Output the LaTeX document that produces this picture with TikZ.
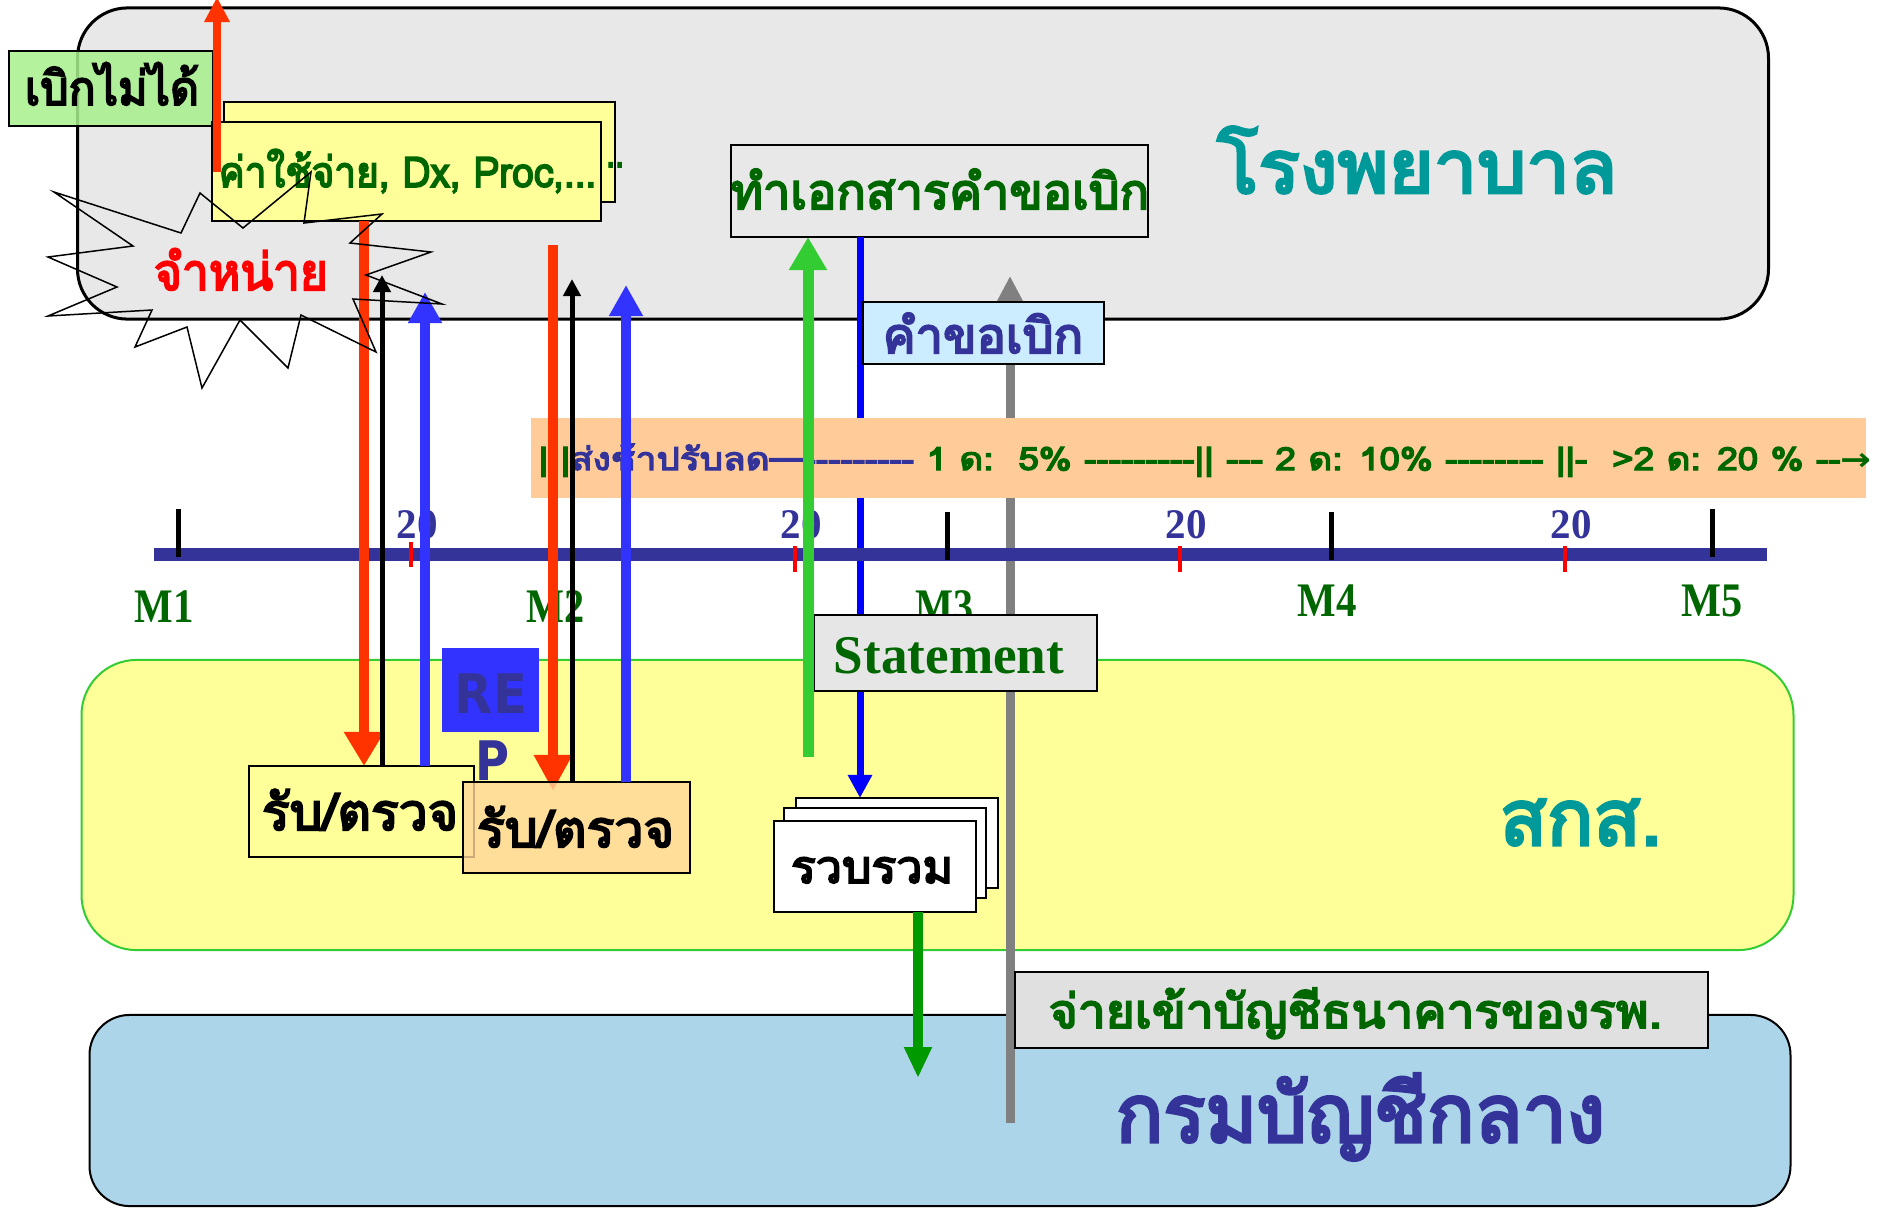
\documentclass[tikz,border=0pt]{standalone}
\usepackage{fontspec}
\usepackage{graphicx}
\usetikzlibrary{arrows.meta,calc}
\newfontfamily\thai[Script=Thai,Ligatures=TeXOff,FakeBold=4]{Loma}
\newfontfamily\tms[Ligatures=TeXOff]{Liberation Serif}
\newfontfamily\djv[Ligatures=TeXOff]{DejaVu Sans}
\definecolor{hgray}{HTML}{E8E8E8}
\definecolor{teal9}{HTML}{009999}
\definecolor{dgreen}{HTML}{006600}
\definecolor{navy3}{HTML}{333399}
\definecolor{yel}{HTML}{FFFF99}
\definecolor{lgreen}{HTML}{33CC33}
\definecolor{skyb}{HTML}{ACD5E9}
\definecolor{peach}{HTML}{FFCC99}
\definecolor{repblue}{HTML}{3333FF}
\definecolor{pureblue}{HTML}{0000FF}
\definecolor{redo}{HTML}{FF3300}
\definecolor{arrgreen}{HTML}{009900}
\definecolor{boxgreen}{HTML}{A8F08C}
\definecolor{reqblue}{HTML}{CCECFF}
\definecolor{stmgray}{HTML}{E6E6E6}
\definecolor{paygray}{HTML}{E0E0E0}
\definecolor{orng}{HTML}{FFD699}
\definecolor{arrgray}{HTML}{808080}
\newcommand{\fitw}[3]{{\fontsize{#2}{#2}\selectfont\resizebox{#1}{\height}{#3}}}
\tikzset{
  box/.style={draw=black, line width=0.02cm, inner sep=0pt, outer sep=0pt},
  lbl/.style={inner sep=0pt, outer sep=0pt, anchor=base},
  redarr/.style={draw=redo, line width=0.10cm, -{Triangle[length=0.34cm,width=0.38cm]}},
  blkarr/.style={draw=black, line width=0.05cm, -{Triangle[length=0.17cm,width=0.17cm]}},
  bluarr/.style={draw=repblue, line width=0.10cm, -{Triangle[length=0.31cm,width=0.32cm]}},
  tickblk/.style={draw=black, line width=0.05cm},
  tickred/.style={draw=red, line width=0.04cm},
}
\begin{document}
\begin{tikzpicture}[x=0.01cm,y=-0.01cm]
\useasboundingbox (0,0) rectangle (1881,1208);
% --- swimlanes
\node[box, line width=0.03cm, fill=hgray, rounded corners=0.5cm, minimum width=16.9cm, minimum height=3.11cm] (hosp) at (923,163.5) {};
\node[box, draw=lgreen, fill=yel, rounded corners=0.55cm, minimum width=17.11cm, minimum height=2.9cm] (sks) at (937.5,805) {};
\node[box, fill=skyb, rounded corners=0.4cm, minimum width=17.0cm, minimum height=1.91cm] (krom) at (940,1110.5) {};
\node[lbl] (hosptxt) at (1417,193) {\fitw{4cm}{21pt}{\color{teal9}\thai โรงพยาบาล}};
\node[lbl] (skstxt) at (1581,845) {\fitw{1.62cm}{22pt}{\color{teal9}\thai สกส.}};
\node[lbl] (kromtxt) at (1360.5,1142) {\fitw{4.89cm}{23pt}{\color{navy3}\thai กรมบัญชีกลาง}};
% --- document box
\node[box, minimum width=4.17cm, minimum height=0.92cm] (docbox) at (939.5,191) {};
\node[lbl] (doctxt) at (940,209) {\fitw{4.18cm}{14pt}{\color{dgreen}\thai ทำเอกสารคำขอเบิก}};
% --- stacked collect boxes
\node[box, fill=white, minimum width=2.02cm, minimum height=0.90cm] (stk3) at (897,843) {};
\node[box, fill=white, minimum width=2.02cm, minimum height=0.90cm] (stk2) at (885,853) {};
\node[box, fill=white, minimum width=2.02cm, minimum height=0.91cm] (stk1) at (875,866.5) {};
\node[lbl] (stktxt) at (872,883) {\fitw{1.62cm}{13pt}{\color{black}\thai รวบรวม}};
% --- gray and blue lines (under band)
\coordinate (gbot) at (1010,1123);
\coordinate (gtop) at (1010,276);
\draw[draw=arrgray, line width=0.09cm, -{Triangle[length=0.26cm,width=0.25cm]}] (gbot) -- (gtop);
\coordinate (xpb) at (860,0);
\draw[draw=pureblue, line width=0.07cm, -{Triangle[length=0.23cm,width=0.23cm]}] (docbox.south -| xpb) -- (stk3.north -| xpb);
% --- penalty band
\node[inner sep=0pt, fill=peach, minimum width=13.35cm, minimum height=0.80cm] (band) at (1198.5,458) {};
\node[inner sep=0pt, anchor=base west] (bandtxt) at (538,470) {\fitw{13.32cm}{9pt}{\thai\textcolor{dgreen}{| |}\textcolor{navy3}{ส่งช้าปรับลด—---------}\textcolor{dgreen}{~1 ด:~~5\% ---------|| --- 2 ด: 10\% -------- ||-~~>2 ด: 20 \% --{\djv\bfseries →}}}};
% --- timeline
\coordinate (tl0) at (154,554);
\coordinate (tl1) at (1767,554);
\draw[draw=navy3, line width=0.13cm] (tl0) -- (tl1);
\draw[tickblk] (178,509) -- (178,557);
\draw[tickblk] (947,512) -- (947,560);
\draw[tickblk] (1331,512) -- (1331,560);
\draw[tickblk] (1712,509) -- (1712,557);
\draw[tickred] (411,542) -- (411,567);
\draw[tickred] (795,546) -- (795,572);
\draw[tickred] (1180,546) -- (1180,572);
\draw[tickred] (1565,546) -- (1565,572);
\foreach \i/\xx in {a/417,b/801,c/1186,d/1571}{
  \node[lbl] (d20\i) at (\xx,538) {\fitw{0.41cm}{12pt}{\color{navy3}\tms\bfseries 20}};
}
\node[lbl] (m1) at (164,622) {\fitw{0.59cm}{13.7pt}{\color{dgreen}\tms\bfseries M1}};
\node[lbl] (m2) at (556,622) {\fitw{0.58cm}{13.7pt}{\color{dgreen}\tms\bfseries M2}};
\node[lbl] (m3) at (945,622) {\fitw{0.58cm}{13.7pt}{\color{dgreen}\tms\bfseries M3}};
\node[lbl] (m4) at (1327.5,616) {\fitw{0.59cm}{13.7pt}{\color{dgreen}\tms\bfseries M4}};
\node[lbl] (m5) at (1712.5,616) {\fitw{0.61cm}{13.7pt}{\color{dgreen}\tms\bfseries M5}};
% --- statement, request, payment boxes
\node[box, fill=stmgray, minimum width=2.83cm, minimum height=0.76cm] (stm) at (955.5,653) {};
\node[lbl] (stmtxt) at (949,673) {\fitw{2.30cm}{15.5pt}{\color{dgreen}\tms\bfseries Statement}};
\node[box, fill=reqblue, minimum width=2.41cm, minimum height=0.62cm] (req) at (983.5,333) {};
\node[lbl] (reqtxt) at (983,353) {\fitw{2.0cm}{14pt}{\color{navy3}\thai คำขอเบิก}};
\node[box, fill=paygray, minimum width=6.93cm, minimum height=0.76cm] (pay) at (1361.5,1010) {};
\node[lbl] (paytxt) at (1355.5,1028) {\fitw{6.13cm}{13.5pt}{\color{dgreen}\thai จ่ายเข้าบัญชีธนาคารของรพ.}};
% --- cannot claim box
\node[box, fill=boxgreen, fill opacity=0.85, minimum width=2.04cm, minimum height=0.75cm] (nogo) at (111,88.5) {};
\node[lbl] (nogotxt) at (112,105) {\fitw{1.74cm}{13.5pt}{\color{black}\thai เบิกไม่ได้}};
% --- expenses stacked boxes
\node[box, fill=yel, minimum width=3.91cm, minimum height=1.00cm] (yback) at (419.5,152) {};
\node[lbl] (ybacktxt) at (615,167) {\fitw{0.18cm}{12pt}{\color{dgreen}\thai ..}};
\node[box, fill=yel, minimum width=3.89cm, minimum height=0.99cm] (yfront) at (406.5,171.5) {};
\node[lbl] (yfronttxt) at (407.5,187) {\fitw{3.77cm}{12pt}{\color{dgreen}\thai ค่าใช้จ่าย, Dx, Proc,...}};
\coordinate (rtop) at (217,-3);
\draw[draw=redo, line width=0.08cm, -{Triangle[length=0.25cm,width=0.24cm]}] (217,172) -- (rtop);
% --- REP
\node[box, draw=none, fill=repblue, minimum width=0.97cm, minimum height=0.84cm] (rep) at (490.5,690) {};
\node[lbl] (reptxt) at (491,713) {\fitw{0.72cm}{15.5pt}{\color{navy3}\djv\bfseries RE}};
\node[lbl] (reptxtp) at (493,780) {\fitw{0.34cm}{15.5pt}{\color{navy3}\djv\bfseries P}};
% --- receive / check 1
\node[box, fill=yel, minimum width=2.25cm, minimum height=0.91cm] (rcv1) at (361.5,811.5) {};
\node[lbl] (rcv1txt) at (360,830) {\fitw{1.96cm}{14.5pt}{\color{black}\thai รับ/ตรวจ}};
\coordinate (xr1) at (364,0);
\coordinate (xk1) at (382,0);
\coordinate (xb1) at (425,0);
\draw[redarr] (yfront.south -| xr1) -- (rcv1.north -| xr1);
\draw[blkarr] (rcv1.north -| xk1) -- (382,275);
\draw[bluarr] (rcv1.north -| xb1) -- (425,292);
% --- receive / check 2
\coordinate (xr2) at (553,0);
\coordinate (xk2) at (572,0);
\coordinate (xb2) at (626,0);
\coordinate (r2top) at (553,245);
\draw[redarr, -{Triangle[length=0.36cm,width=0.36cm]}] (r2top) -- (553,791);
\node[box, fill=orng, fill opacity=0.8, minimum width=2.27cm, minimum height=0.91cm] (rcv2) at (576.5,827.5) {};
\node[lbl] (rcv2txt) at (575.5,847) {\fitw{1.97cm}{14.5pt}{\color{black}\thai รับ/ตรวจ}};
\draw[blkarr] (rcv2.north -| xk2) -- (572,279);
\draw[bluarr] (rcv2.north -| xb2) -- (626,285);
% --- green arrows
\coordinate (gstart) at (808,757);
\coordinate (xg) at (808,0);
\draw[draw=lgreen, line width=0.11cm, -{Triangle[length=0.33cm,width=0.36cm]}] (gstart) -- (docbox.south -| xg);
\coordinate (xdg) at (918,0);
\draw[draw=arrgreen, line width=0.10cm, -{Triangle[length=0.31cm,width=0.26cm]}] (stk1.south -| xdg) -- (918,1078);
% --- write-off starburst
\draw[black, line width=0.015cm] (54,192) -- (181,233) -- (200,193) -- (243,228) -- (311,172) -- (304,223) -- (382,214) -- (350,243) -- (431,252) -- (366,275) -- (442,304) -- (353,299) -- (376,352) -- (301,315) -- (288,368) -- (240,320) -- (202,388) -- (187,327) -- (135,347) -- (152,310) -- (48,316) -- (117,287) -- (48,257) -- (133,246) -- cycle;
\node[lbl] (wotxt) at (241,290) {\fitw{1.74cm}{14.5pt}{\color{red}\thai จำหน่าย}};
\end{tikzpicture}
\end{document}
